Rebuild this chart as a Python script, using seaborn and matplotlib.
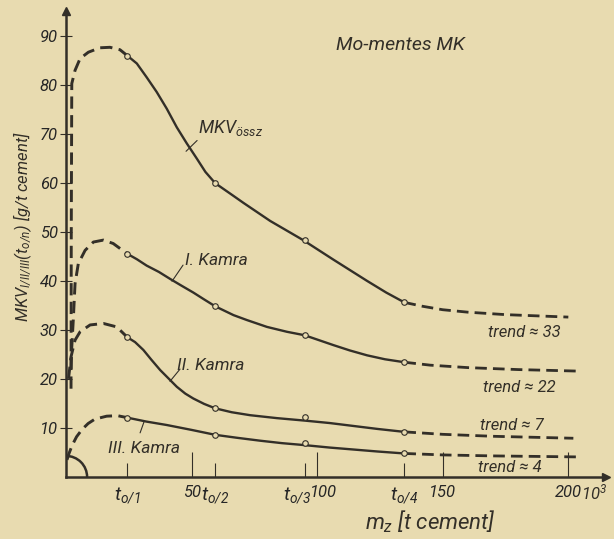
import numpy as np
import pandas as pd
import matplotlib
matplotlib.use("Agg")
import matplotlib.pyplot as plt
from matplotlib.patches import Arc
from matplotlib.transforms import ScaledTranslation
import seaborn as sns

# values: x = m_z [10^3 t cement], y = MKV [g/t cement]
t_pos = [24.4, 59.4, 95, 134.7]
t_labels = [r'$t_{o/1}$', r'$t_{o/2}$', r'$t_{o/3}$', r'$t_{o/4}$']
x_major = [50, 100, 150, 200]
y_major = [10, 20, 30, 40, 50, 60, 70, 80, 90]

# MKV_össz
ossz_rise_x = [2.0, 2.1, 2.3, 3.6, 5.6, 8.9, 13.5, 17.5, 21.5, 24.4]
ossz_rise_y = [18, 50, 80.2, 82.9, 85.3, 86.6, 87.5, 87.6, 87.1, 85.9]
ossz_x = [24.4, 28.2, 32.1, 36.1, 40.1, 44.1, 48.1, 52.1, 55.5, 59.4, 66.7, 70.6,
          81.3, 94.4, 106.5, 119.8, 127.5, 134.7]
ossz_y = [85.9, 84.3, 81.5, 78.5, 75.1, 71.3, 68.0, 64.9, 62.2, 59.9, 57.3, 55.9,
          52.2, 48.3, 44.3, 40.0, 37.6, 35.6]
ossz_trend_x = [134.7, 142, 150, 160, 175, 190, 200]
ossz_trend_y = [35.6, 34.8, 34.1, 33.6, 33.1, 32.8, 32.6]
ossz_pts = [85.9, 59.9, 48.3, 35.6]

# I. Kamra
k1_rise_x = [2.0, 2.3, 2.9, 3.6, 4.9, 7.6, 10.9, 14.9, 18.8, 24.4]
k1_rise_y = [22, 26.5, 32, 39.4, 43.5, 46.2, 47.9, 48.3, 47.6, 45.5]
k1_x = [24.4, 28.2, 32.1, 37.0, 41.4, 46.0, 50.7, 55, 59.4, 66.7, 72, 80, 88, 95,
        106.4, 113, 119.9, 127, 134.7]
k1_y = [45.5, 44.4, 43.1, 41.8, 40.4, 39.0, 37.6, 36.2, 34.8, 33.0, 32.0, 30.6, 29.6, 28.9,
        26.9, 25.8, 24.8, 24.0, 23.4]
k1_trend_x = [134.7, 145, 160, 180, 203]
k1_trend_y = [23.4, 22.8, 22.3, 21.9, 21.6]
k1_pts = [45.5, 34.8, 28.9, 23.4]

# II. Kamra
k2_rise_x = [1.0, 2.0, 3.6, 5.6, 9.6, 14.9, 20.2, 24.4]
k2_rise_y = [20, 24.5, 27.9, 29.6, 31.0, 31.3, 30.6, 28.5]
k2_x = [24.4, 27.5, 30.8, 34, 37.5, 41, 44.1, 47.5, 50.7, 55, 59.4, 66, 73.3, 84, 95,
        105, 114.5, 124, 134.7]
k2_y = [28.5, 27.5, 25.9, 23.9, 21.8, 20.0, 18.4, 17.0, 16.0, 14.9, 14.0, 13.2, 12.6, 12.0, 11.5,
        11.0, 10.4, 9.8, 9.2]
k2_trend_x = [134.7, 150, 170, 202]
k2_trend_y = [9.2, 8.7, 8.3, 7.9]
k2_pts = [28.5, 14.0, 12.2, 9.2]

# III. Kamra
k3_rise_x = [0.4, 1.2, 2.4, 4.2, 6.4, 8.8, 11.5, 16.2, 20.5, 24.4]
k3_rise_y = [3.5, 4.8, 6.4, 8.2, 9.7, 10.9, 11.8, 12.4, 12.5, 12.1]
k3_x = [24.4, 32, 40.1, 50, 59.4, 68, 77.3, 86, 95, 105, 114.5, 124, 134.7]
k3_y = [12.1, 11.3, 10.6, 9.6, 8.6, 8.0, 7.4, 6.9, 6.5, 6.0, 5.6, 5.2, 4.8]
k3_trend_x = [134.7, 150, 170, 203]
k3_trend_y = [4.8, 4.5, 4.3, 4.1]
k3_pts = [12.1, 8.6, 7.0, 4.8]

paper = '#e8dbb0'
ink = '#332f28'

sns.set_theme(style='ticks')
plt.rcParams['font.family'] = ['Roboto', 'DejaVu Sans']
plt.rcParams['font.style'] = 'italic'
plt.rcParams['mathtext.fontset'] = 'custom'
plt.rcParams['mathtext.it'] = 'Roboto:italic'
plt.rcParams['mathtext.rm'] = 'Roboto:italic'
plt.rcParams['text.color'] = ink

fig = plt.figure(figsize=(6.14, 5.39), dpi=100, facecolor=paper)
ax = fig.add_axes([66 / 614, 62 / 539, 540 / 614, 466 / 539], facecolor=paper)

dash = (0, (4.2, 2.2))
curves = [
    (ossz_rise_x, ossz_rise_y, ossz_x, ossz_y, ossz_trend_x, ossz_trend_y, ossz_pts),
    (k1_rise_x, k1_rise_y, k1_x, k1_y, k1_trend_x, k1_trend_y, k1_pts),
    (k2_rise_x, k2_rise_y, k2_x, k2_y, k2_trend_x, k2_trend_y, k2_pts),
    (k3_rise_x, k3_rise_y, k3_x, k3_y, k3_trend_x, k3_trend_y, k3_pts),
]
for rx, ry, sx, sy, tx, ty, pts in curves:
    sns.lineplot(x=rx, y=ry, ax=ax, color=ink, lw=2.1, linestyle=dash, sort=False, estimator=None)
    sns.lineplot(x=sx, y=sy, ax=ax, color=ink, lw=1.7, sort=False, estimator=None)
    sns.lineplot(x=tx, y=ty, ax=ax, color=ink, lw=2.0, linestyle=dash, sort=False, estimator=None)
    sns.scatterplot(x=t_pos, y=pts, ax=ax, marker='o', s=16, facecolor=paper,
                    edgecolor=ink, linewidth=0.8, zorder=5)

ax.add_patch(Arc((0, 0), 2 * 8.4, 2 * 4.3, theta1=0, theta2=90, color=ink, lw=1.8))

ax.set_xlim(0, 215)
ax.set_ylim(0, 95)
sns.despine(ax=ax)
for s in ['left', 'bottom']:
    ax.spines[s].set_linewidth(1.8)
    ax.spines[s].set_color(ink)
ax.plot(1, 0, '>', color=ink, ms=6, transform=ax.transAxes, clip_on=False)
ax.plot(0, 1, '^', color=ink, ms=6, transform=ax.transAxes, clip_on=False)

ax.set_xticks(x_major)
ax.set_xticklabels([str(v) for v in x_major])
ax.set_xticks(t_pos, minor=True)
ax.set_xticklabels(t_labels, minor=True)
ax.tick_params(axis='x', which='major', direction='in', length=18, width=0.8,
               color=ink, labelsize=12, pad=6)
ax.tick_params(axis='x', which='minor', direction='in', length=10, width=0.8,
               color=ink, labelsize=14, pad=6)
# t_o/3 and 100 sit close together in the original, push them apart a little
lab_t3 = ax.get_xticklabels(minor=True)[2]
lab_t3.set_transform(lab_t3.get_transform() + ScaledTranslation(-0.08, 0, fig.dpi_scale_trans))
lab_100 = ax.get_xticklabels()[1]
lab_100.set_transform(lab_100.get_transform() + ScaledTranslation(0.06, 0, fig.dpi_scale_trans))
ax.set_yticks(y_major)
ax.set_yticklabels([str(v) for v in y_major])
ax.tick_params(axis='y', direction='inout', length=8, width=0.8, color=ink,
               labelsize=12, pad=2)
ax.set_xlabel('')
ax.set_ylabel('')

ax.annotate(r'$10^3$', xy=(205, 0), xytext=(0, -4), textcoords='offset points',
            ha='left', va='top', fontsize=12)

fig.text(23 / 614, 1 - 227 / 539, r'MKV$_{I/II/III}$($t_{o/n}$) [g/t cement]',
         rotation=90, ha='center', va='center', fontsize=12)
fig.text(430 / 614, 1 - 522 / 539, r'$m_z$ [t cement]', ha='center', va='center', fontsize=16)

ax.text(107.6, 88, 'Mo-mentes MK', fontsize=14, ha='left', va='center')
ax.text(52.6, 71.1, r'MKV$_{össz}$', fontsize=13, ha='left', va='center')
ax.text(47.4, 44.2, 'I. Kamra', fontsize=12.5, ha='left', va='center')
ax.text(44.2, 22.8, 'II. Kamra', fontsize=12.5, ha='left', va='center')
ax.text(16.7, 5.9, 'III. Kamra', fontsize=12.5, ha='left', va='center')

leaders = [((52.2, 68.6), (47.8, 66.4)), ((46.6, 43.2), (42.2, 39.9)),
           ((45.4, 22.0), (41.4, 19.5)), ((29.5, 9.0), (31.1, 11.3))]
for a, b in leaders:
    ax.plot([a[0], b[0]], [a[1], b[1]], color=ink, lw=0.8)

ax.text(168, 29.5, 'trend ≈ 33', fontsize=12, ha='left', va='center')
ax.text(166, 18.3, 'trend ≈ 22', fontsize=12, ha='left', va='center')
ax.text(165, 10.6, 'trend ≈ 7', fontsize=12, ha='left', va='center')
ax.text(164, 1.9, 'trend ≈ 4', fontsize=12, ha='left', va='center')

fig.savefig('out.png', dpi=100, facecolor=paper)
